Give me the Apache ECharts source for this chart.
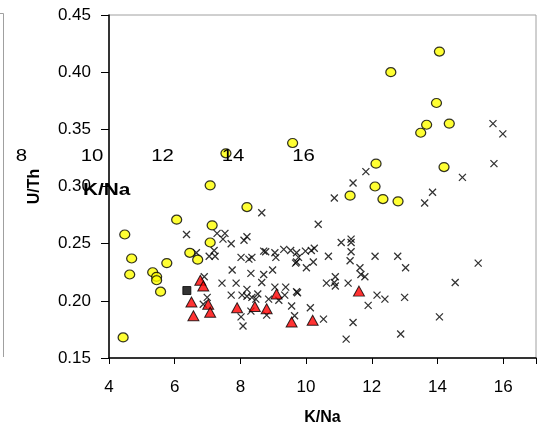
<!DOCTYPE html>
<html><head><meta charset="utf-8">
<script src="https://cdn.jsdelivr.net/npm/echarts@6/dist/echarts.min.js"></script>
<style>html,body{margin:0;padding:0;background:#fff}#c{width:539px;height:436px}</style>
</head><body><div id="c"></div>
<script>
// Data (K/Na, U/Th)
const yellowCircles = [
 [4.43,0.168],[4.48,0.258],[4.63,0.223],[4.69,0.237],[5.33,0.225],[5.45,0.221],[5.45,0.218],
 [5.57,0.208],[5.76,0.233],[6.06,0.271],[6.46,0.242],[6.70,0.236],[7.08,0.251],[7.14,0.266],
 [7.08,0.301],[8.20,0.282],[7.56,0.329],[9.59,0.338],[11.34,0.292],[12.10,0.300],[12.13,0.320],
 [12.34,0.289],[12.80,0.287],[12.58,0.400],[13.49,0.347],[13.67,0.354],[13.97,0.373],
 [14.06,0.418],[14.36,0.355],[14.20,0.317]
];
const redTriangles = [
 [6.51,0.199],[6.57,0.187],[6.78,0.218],[6.87,0.213],[7.02,0.197],[7.08,0.190],[7.90,0.194],
 [8.44,0.195],[8.80,0.193],[9.10,0.206],[9.56,0.1815],[10.20,0.183],[11.61,0.2085]
];
const blackSquares = [[6.37,0.209]];
const crosses = [
 [11.43,0.303],[10.86,0.290],[8.65,0.277],[10.37,0.267],[6.36,0.258],[7.29,0.259],[7.53,0.259],
 [7.47,0.254],[7.72,0.250],[8.11,0.253],[8.20,0.256],[7.20,0.244],[7.05,0.239],[7.23,0.239],
 [6.66,0.242],[8.02,0.238],[8.26,0.2365],[8.35,0.238],[8.71,0.2435],[8.77,0.243],[9.05,0.242],
 [9.08,0.238],[9.32,0.245],[9.53,0.244],[9.71,0.242],[9.77,0.238],[9.71,0.234],[9.98,0.2435],
 [10.16,0.244],[10.25,0.246],[10.22,0.234],[10.01,0.229],[10.68,0.239],[11.07,0.251],
 [11.37,0.254],[11.37,0.251],[11.37,0.243],[11.34,0.235],[12.10,0.239],[11.64,0.229],
 [11.67,0.223],[11.79,0.221],[10.89,0.221],[10.86,0.216],[10.62,0.2155],[10.89,0.213],
 [11.28,0.2155],[12.16,0.205],[11.89,0.196],[11.43,0.181],[11.22,0.1665],[10.53,0.184],
 [10.13,0.194],[9.56,0.1955],[9.65,0.187],[9.71,0.208],[9.74,0.207],[9.35,0.205],[9.05,0.212],
 [9.17,0.2005],[8.86,0.2015],[8.98,0.227],[8.71,0.223],[8.65,0.216],[8.32,0.224],[7.75,0.227],
 [7.87,0.2155],[8.20,0.210],[8.20,0.204],[8.53,0.206],[8.47,0.2015],[8.35,0.203],[8.05,0.205],
 [7.72,0.205],[7.44,0.2155],[6.90,0.221],[6.99,0.203],[6.87,0.197],[8.02,0.186],[8.08,0.178],
 [8.32,0.191],[8.80,0.1875],[9.38,0.212],[9.68,0.233],[13.85,0.295],[13.61,0.2855],
 [12.79,0.239],[13.03,0.229],[15.24,0.233],[14.54,0.216],[12.40,0.2015],[13.00,0.203],
 [14.06,0.186],[12.88,0.171],[15.69,0.355],[15.99,0.346],[15.72,0.320],[14.76,0.308],[11.82,0.313]
];
const strayTicks = ['8','10','12','14','16'];
const strayName = 'K/Na';

const FONT = "'Liberation Sans', Arial, sans-serif";
const chart = echarts.init(document.getElementById('c'), null, {renderer:'canvas'});
const strayGraphics = strayTicks.map((t,i)=>({
  type:'text', z:100, x: 21.5 + i*70.5, y:148, scaleX:1.2,
  style:{text:t, fill:'#000', font:"17px "+FONT, textAlign:'center', textVerticalAlign:'top'}
}));
chart.setOption({
  animation:false,
  backgroundColor:'#fff',
  grid:{left:109, top:15, right:1, bottom:78, show:true, borderColor:'#a0a0a0', borderWidth:1, backgroundColor:'transparent'},
  xAxis:{
    type:'value', min:4, max:17, interval:2,
    name:'K/Na', nameLocation:'middle', nameGap:52,
    nameTextStyle:{color:'#000', fontSize:16, fontWeight:'bold', fontFamily:FONT},
    axisLine:{show:true, onZero:false, lineStyle:{color:'#000', width:1.5}},
    axisTick:{show:true, inside:false, length:6, lineStyle:{color:'#000'}},
    axisLabel:{color:'#000', fontSize:17, fontFamily:FONT, margin:21,
      formatter:v => (Math.abs(v % 2) < 1e-9 ? String(v) : '')},
    splitLine:{show:false}
  },
  yAxis:{
    type:'value', min:0.15, max:0.45, interval:0.05,
    name:'U/Th', nameLocation:'middle', nameGap:66,
    nameTextStyle:{color:'#000', fontSize:16, fontWeight:'bold', fontFamily:FONT},
    axisLine:{show:true, onZero:false, lineStyle:{color:'#000', width:1.5}},
    axisTick:{show:true, inside:false, length:8, lineStyle:{color:'#000'}},
    axisLabel:{color:'#000', fontSize:17, fontFamily:FONT, margin:18, formatter:v=>v.toFixed(2)},
    splitLine:{show:false}
  },
  series:[
    {type:'scatter', data:crosses, symbol:'path://M0,0L10,10M10,0L0,10', symbolSize:7,
     itemStyle:{color:'none', borderColor:'#000', borderWidth:1.3}},
    {type:'scatter', data:yellowCircles, symbol:'circle', symbolSize:[10,9],
     itemStyle:{color:'#ffff00', borderColor:'#000', borderWidth:1.2}},
    {type:'scatter', data:redTriangles, symbol:'triangle', symbolSize:[11,10],
     itemStyle:{color:'#ff0000', borderColor:'#000', borderWidth:1}},
    {type:'scatter', data:blackSquares, symbol:'rect', symbolSize:8,
     itemStyle:{color:'#000', borderColor:'#000', borderWidth:1}}
  ],
  graphic:[
    {type:'line', z:100, shape:{x1:3.5,y1:13.5,x2:3.5,y2:357}, style:{stroke:'#a0a0a0', lineWidth:1}},
    {type:'line', z:100, shape:{x1:0,y1:13.5,x2:3.5,y2:13.5}, style:{stroke:'#a0a0a0', lineWidth:1}},
    ...strayGraphics,
    {type:'text', z:100, x:83, y:183, scaleX:1.3, style:{text:strayName, fill:'#000', font:"bold 16px "+FONT, textVerticalAlign:'top'}}
  ]
});
</script></body></html>
